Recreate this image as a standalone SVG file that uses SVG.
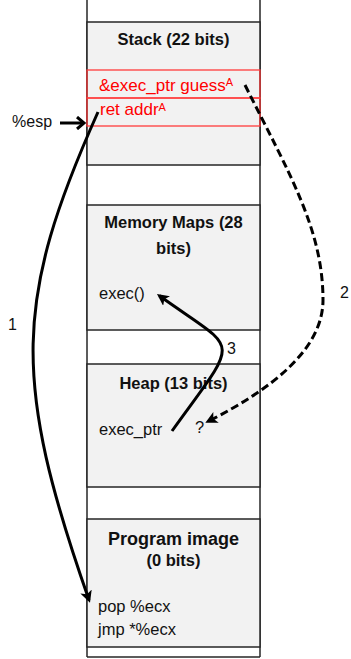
<svg xmlns="http://www.w3.org/2000/svg" width="351" height="659" viewBox="0 0 351 659">
  <style>
    .col { stroke: #262626; stroke-width: 1.5; fill: none; }
    .box { fill: #f2f2f2; stroke: #262626; stroke-width: 1.5; }
    .slot { fill: none; stroke: #ff3b3b; stroke-width: 1.3; }
    .title { font-family: "Liberation Sans", Arial, sans-serif; font-weight: bold; font-size: 16.5px; fill: #111; text-anchor: middle; }
    .big { font-size: 18px; }
    .txt { font-family: "Liberation Sans", Arial, sans-serif; font-size: 16.5px; fill: #111; }
    .red { font-family: "Liberation Sans", Arial, sans-serif; font-size: 17px; fill: #ff0000; }
    .sup { font-size: 11px; }
    .wire { fill: none; stroke: #000; stroke-width: 3; }
    .dash { stroke-dasharray: 8 4; }
  </style>
  <defs>
    <marker id="head" markerUnits="userSpaceOnUse" markerWidth="13" markerHeight="12" refX="9" refY="6" orient="auto">
      <path d="M0,0 L12,6 L0,12 L3,6 z" fill="#000"/>
    </marker>
    <marker id="chev" markerUnits="userSpaceOnUse" markerWidth="12" markerHeight="14" refX="8" refY="7" orient="auto">
      <path d="M1,1 L8,7 L1,13" fill="none" stroke="#000" stroke-width="3"/>
    </marker>
  </defs>

  <!-- address space column -->
  <g id="column">
    <line class="col" x1="87" y1="0" x2="87" y2="657"/>
    <line class="col" x1="260" y1="0" x2="260" y2="657"/>
    <line class="col" x1="87" y1="657" x2="260" y2="657"/>
  </g>

  <g id="stack">
    <rect class="box" x="87" y="22" width="173" height="143"/>
    <text class="title" x="173.5" y="45">Stack (22 bits)</text>
    <rect class="slot" x="87" y="70" width="173" height="28"/>
    <rect class="slot" x="87" y="98" width="173" height="28"/>
    <text class="red" x="99" y="91">&amp;exec_ptr guess<tspan class="sup" dy="-5">A</tspan></text>
    <text class="red" x="100" y="115">ret addr<tspan class="sup" dy="-4">A</tspan></text>
  </g>

  <g id="memory-maps">
    <rect class="box" x="87" y="205" width="173" height="125"/>
    <text class="title" x="173.5" y="228">Memory Maps (28</text>
    <text class="title" x="173.5" y="254">bits)</text>
    <text class="txt" x="99" y="299">exec()</text>
  </g>

  <g id="heap">
    <rect class="box" x="87" y="364" width="173" height="123"/>
    <text class="title" x="173.5" y="389">Heap (13 bits)</text>
    <text class="txt" x="99" y="435">exec_ptr</text>
    <text class="txt" x="195" y="433">?</text>
  </g>

  <g id="program-image">
    <rect class="box" x="87" y="519" width="173" height="128"/>
    <text class="title big" x="173.5" y="545">Program image</text>
    <text class="title" x="173.5" y="566">(0 bits)</text>
    <text class="txt big" x="98" y="612">pop %ecx</text>
    <text class="txt big" x="98" y="635">jmp *%ecx</text>
  </g>

  <g id="esp">
    <text class="txt" x="12" y="127" style="font-size:16px">%esp</text>
  </g>

  <g id="connectors">
    <!-- %esp points at the saved return address -->
    <line class="wire" x1="60" y1="123" x2="84" y2="123" marker-end="url(#chev)"/>
    <!-- 1: ret into pop/jmp gadget -->
    <path class="wire" d="M98,112 C14,300 12,380 89,600" marker-end="url(#head)"/>
    <text class="txt" x="8" y="330" style="font-size:16px">1</text>
    <!-- 2: guessed pointer into the heap -->
    <path class="wire dash" d="M245,85 C290,175 323,230 323,300 C323,350 270,390 208,421.5" marker-end="url(#head)"/>
    <text class="txt" x="340" y="298" style="font-size:16px">2</text>
    <!-- 3: exec_ptr refers to exec() -->
    <path class="wire" d="M172,431 C242,333.5 239.8,353.8 159.4,295.8" marker-end="url(#head)"/>
    <text class="txt" x="227" y="354" style="font-size:16px">3</text>
  </g>
</svg>
